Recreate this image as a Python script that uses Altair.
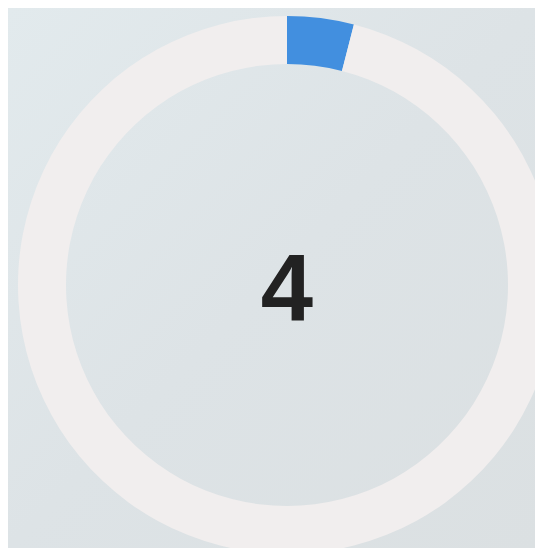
import altair as alt
import pandas as pd

# data
segments = ["filled", "remaining"]
values = [4, 96]
seg_colors = ["#428fdf", "#f1eeee"]
label = ["4"]

W, H = 527, 540
CX, CY = 279, 277

df = pd.DataFrame({"segment": segments, "value": values, "order": [0, 1]})

bg = alt.Chart(pd.DataFrame({"a": [0]})).mark_rect(
    color=alt.Gradient(
        gradient="linear",
        stops=[alt.GradientStop(color="#e2eaed", offset=0),
               alt.GradientStop(color="#dde3e6", offset=0.5),
               alt.GradientStop(color="#dbe0e2", offset=1)],
        x1=0, x2=1, y1=0, y2=1,
    )
).encode(x=alt.value(0), x2=alt.value(W), y=alt.value(0), y2=alt.value(H))

ring = alt.Chart(df).mark_arc(outerRadius=269, innerRadius=221, clip=True).encode(
    theta=alt.Theta("value:Q", stack=True),
    order=alt.Order("order:Q"),
    color=alt.Color("segment:N", scale=alt.Scale(domain=segments, range=seg_colors), legend=None),
    x=alt.value(CX),
    y=alt.value(CY),
)

txt = alt.Chart(pd.DataFrame({"t": label})).mark_text(
    font="Liberation Sans", fontSize=94, fontWeight="bold", color="#222222",
    baseline="alphabetic", align="center",
).encode(text="t:N", x=alt.value(CX), y=alt.value(312))

chart = alt.layer(bg, ring, txt).properties(
    width=W, height=H, padding=0, autosize=alt.AutoSizeParams(type="none")
).configure_view(stroke=None).configure(background="#dde4e7")

chart.save("out.html", embed_options={"renderer": "svg", "actions": False})
